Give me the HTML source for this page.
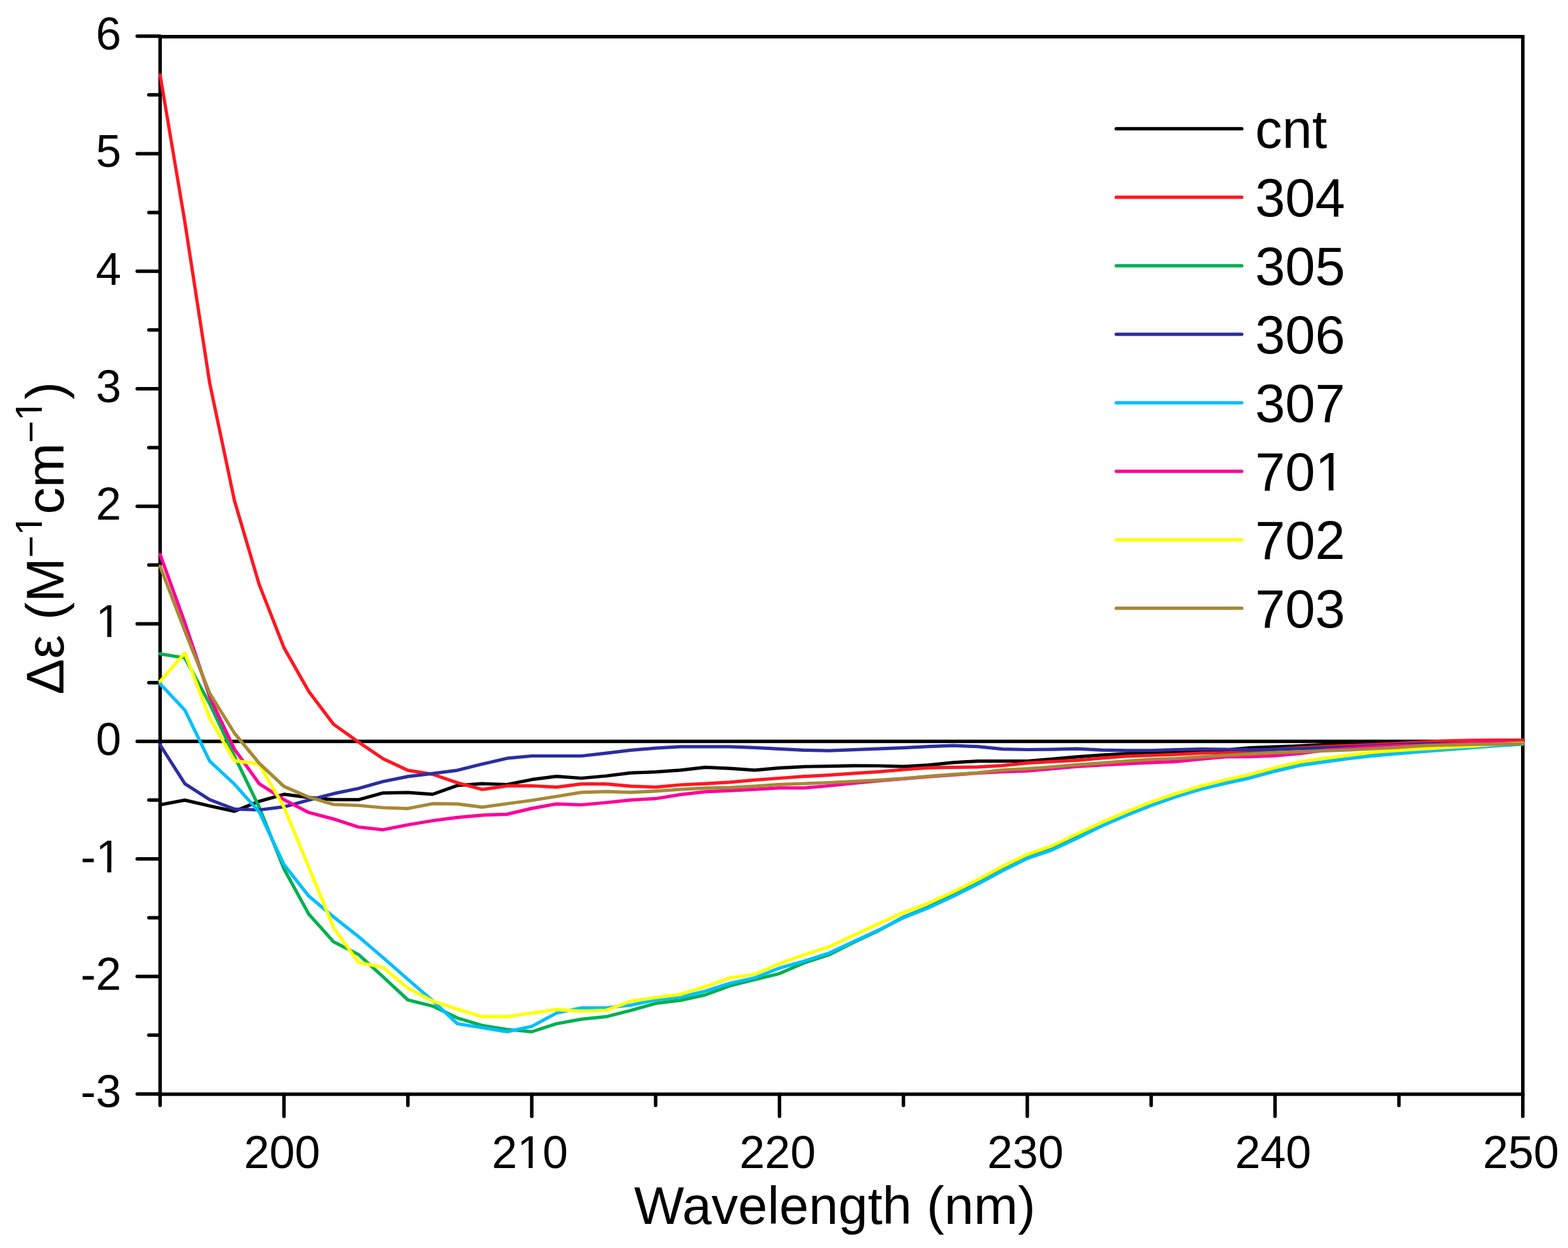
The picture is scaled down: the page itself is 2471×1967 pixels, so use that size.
<!DOCTYPE html><html><head><meta charset="utf-8"><style>html,body{margin:0;padding:0;background:#fff;}svg{display:block;}text{font-family:"Liberation Sans",Arial,Helvetica,sans-serif;fill:#000;}</style></head><body>
<svg width="2471" height="1967" viewBox="0 0 2471 1967">
<defs><clipPath id="c1_2" clipPathUnits="userSpaceOnUse"><path clip-rule="evenodd" d="M-5000 -5000H8000V8000H-5000ZM155.22 1368.12H169.05V1377.80H155.22ZM175.42 1368.12H188.68V1377.80H175.42Z"/></clipPath><clipPath id="c1_4" clipPathUnits="userSpaceOnUse"><path clip-rule="evenodd" d="M-5000 -5000H8000V8000H-5000ZM155.24 997.52H169.06V1007.20H155.24ZM175.42 997.52H188.68V1007.20H175.42Z"/></clipPath><clipPath id="c1_11" clipPathUnits="userSpaceOnUse"><path clip-rule="evenodd" d="M-5000 -5000H8000V8000H-5000ZM819.25 1834.32H833.08V1844.00H819.25ZM839.44 1834.32H852.71V1844.00H839.44Z"/></clipPath><clipPath id="c1_17" clipPathUnits="userSpaceOnUse"><path clip-rule="evenodd" d="M-5000 -5000H8000V8000H-5000ZM7.57 -39.78H19.29V-31.00H7.57ZM24.60 -39.78H35.85V-31.00H24.60ZM188.37 -39.78H200.09V-31.00H188.37ZM205.39 -39.78H216.64V-31.00H205.39Z"/></clipPath><clipPath id="c1_23" clipPathUnits="userSpaceOnUse"><path clip-rule="evenodd" d="M-5000 -5000H8000V8000H-5000ZM2077.81 765.55H2093.92V776.20H2077.81ZM2101.43 765.55H2116.88V776.20H2101.43Z"/></clipPath></defs>
<rect x="0" y="0" width="2471" height="1967" fill="#fff"/>
<line x1="252.3" y1="1168.5" x2="2399.8" y2="1168.5" stroke="#000" stroke-width="5.4"/>
<rect x="252.3" y="57.8" width="2147.5" height="1666.8" fill="none" stroke="#000" stroke-width="5.5"/>
<path d="M252.3 1724.2H216.2 M252.3 1631.6H234.6 M252.3 1539.0H216.2 M252.3 1446.4H234.6 M252.3 1353.8H216.2 M252.3 1261.1H234.6 M252.3 1168.5H216.2 M252.3 1075.9H234.6 M252.3 983.2H216.2 M252.3 890.6H234.6 M252.3 798.0H216.2 M252.3 705.4H234.6 M252.3 612.8H216.2 M252.3 520.1H234.6 M252.3 427.5H216.2 M252.3 334.9H234.6 M252.3 242.2H216.2 M252.3 149.6H234.6 M252.3 57.0H216.2 M252.3 1724.6V1742.2 M447.5 1724.6V1759.6 M642.8 1724.6V1742.2 M838.0 1724.6V1759.6 M1033.2 1724.6V1742.2 M1228.4 1724.6V1759.6 M1423.7 1724.6V1742.2 M1618.9 1724.6V1759.6 M1814.1 1724.6V1742.2 M2009.3 1724.6V1759.6 M2204.6 1724.6V1742.2 M2399.8 1724.6V1759.6" stroke="#000" stroke-width="5.5" stroke-linecap="round" fill="none"/>
<polyline points="252.3,1268.5 291.3,1261.1 330.4,1270.2 369.4,1278.7 408.5,1263.0 447.5,1251.9 486.6,1256.9 525.6,1260.4 564.7,1260.4 603.7,1249.8 642.8,1249.1 681.8,1251.9 720.8,1238.0 759.9,1235.2 798.9,1236.5 838.0,1228.7 877.0,1223.7 916.1,1226.5 955.1,1223.0 994.2,1218.1 1033.2,1216.7 1072.3,1213.9 1111.3,1209.3 1150.3,1211.1 1189.4,1213.9 1228.4,1210.4 1267.5,1208.3 1306.5,1207.6 1345.6,1206.8 1384.6,1207.0 1423.7,1208.1 1462.7,1205.9 1501.8,1201.8 1540.8,1199.6 1579.8,1199.6 1618.9,1199.6 1657.9,1196.3 1697.0,1192.8 1736.0,1190.0 1775.1,1187.8 1814.1,1185.7 1853.2,1185.7 1892.2,1184.2 1931.3,1182.2 1970.3,1178.5 2009.3,1177.0 2048.4,1175.7 2087.4,1173.7 2126.5,1172.2 2165.5,1171.6 2204.6,1170.2 2243.6,1169.2 2282.7,1168.5 2321.7,1168.5 2360.8,1168.5 2399.8,1168.5" fill="none" stroke="#000000" stroke-width="5.2" stroke-linejoin="round" stroke-linecap="round"/>
<polyline points="252.3,118.1 291.3,349.7 330.4,603.5 369.4,788.7 408.5,921.4 447.5,1020.9 486.6,1089.8 525.6,1141.5 564.7,1169.4 603.7,1195.9 642.8,1214.1 681.8,1220.4 720.8,1233.7 759.9,1244.3 798.9,1238.7 838.0,1238.5 877.0,1240.6 916.1,1235.6 955.1,1235.6 994.2,1239.1 1033.2,1240.6 1072.3,1237.0 1111.3,1235.2 1150.3,1232.8 1189.4,1229.3 1228.4,1226.5 1267.5,1223.7 1306.5,1221.7 1345.6,1218.9 1384.6,1216.3 1423.7,1213.0 1462.7,1210.2 1501.8,1209.4 1540.8,1208.9 1579.8,1206.7 1618.9,1202.6 1657.9,1200.4 1697.0,1198.3 1736.0,1194.8 1775.1,1192.0 1814.1,1190.5 1853.2,1189.2 1892.2,1187.0 1931.3,1186.5 1970.3,1183.9 2009.3,1181.1 2048.4,1178.5 2087.4,1176.5 2126.5,1175.0 2165.5,1173.7 2204.6,1171.5 2243.6,1169.4 2282.7,1167.8 2321.7,1166.8 2360.8,1166.5 2399.8,1166.5" fill="none" stroke="#ff1721" stroke-width="5.2" stroke-linejoin="round" stroke-linecap="round"/>
<polyline points="252.3,1030.5 291.3,1037.0 330.4,1109.2 369.4,1191.7 408.5,1272.2 447.5,1369.5 486.6,1440.8 525.6,1484.4 564.7,1504.2 603.7,1539.7 642.8,1576.0 681.8,1585.7 720.8,1604.4 759.9,1616.2 798.9,1622.5 838.0,1626.1 877.0,1613.5 916.1,1606.4 955.1,1602.4 994.2,1592.5 1033.2,1581.4 1072.3,1576.6 1111.3,1568.1 1150.3,1553.8 1189.4,1544.0 1228.4,1534.4 1267.5,1517.5 1306.5,1504.9 1345.6,1485.3 1384.6,1466.8 1423.7,1445.4 1462.7,1429.7 1501.8,1411.2 1540.8,1391.7 1579.8,1370.4 1618.9,1351.0 1657.9,1338.0 1697.0,1319.7 1736.0,1300.0 1775.1,1283.4 1814.1,1268.0 1853.2,1254.1 1892.2,1242.2 1931.3,1231.9 1970.3,1224.1 2009.3,1213.9 2048.4,1205.0 2087.4,1199.4 2126.5,1194.1 2165.5,1189.8 2204.6,1186.1 2243.6,1182.9 2282.7,1180.0 2321.7,1177.4 2360.8,1174.8 2399.8,1172.9" fill="none" stroke="#00b050" stroke-width="5.2" stroke-linejoin="round" stroke-linecap="round"/>
<polyline points="252.3,1174.1 291.3,1235.2 330.4,1260.4 369.4,1275.2 408.5,1276.5 447.5,1271.7 486.6,1261.1 525.6,1250.9 564.7,1242.8 603.7,1231.7 642.8,1223.9 681.8,1219.1 720.8,1214.1 759.9,1204.3 798.9,1195.2 838.0,1191.5 877.0,1191.5 916.1,1191.5 955.1,1187.2 994.2,1182.4 1033.2,1179.1 1072.3,1176.8 1111.3,1176.8 1150.3,1176.8 1189.4,1178.3 1228.4,1180.4 1267.5,1182.4 1306.5,1183.1 1345.6,1181.7 1384.6,1180.2 1423.7,1178.7 1462.7,1176.7 1501.8,1175.2 1540.8,1176.7 1579.8,1180.7 1618.9,1181.5 1657.9,1181.1 1697.0,1180.2 1736.0,1182.2 1775.1,1182.9 1814.1,1182.9 1853.2,1181.5 1892.2,1180.7 1931.3,1181.1 1970.3,1181.8 2009.3,1181.1 2048.4,1180.0 2087.4,1178.7 2126.5,1177.4 2165.5,1175.9 2204.6,1173.7 2243.6,1172.6 2282.7,1172.2 2321.7,1171.3 2360.8,1170.7 2399.8,1170.7" fill="none" stroke="#2b2e9f" stroke-width="5.2" stroke-linejoin="round" stroke-linecap="round"/>
<polyline points="252.3,1077.7 291.3,1119.2 330.4,1199.6 369.4,1235.9 408.5,1279.7 447.5,1362.6 486.6,1412.3 525.6,1445.1 564.7,1476.0 603.7,1509.4 642.8,1543.6 681.8,1577.2 720.8,1613.5 759.9,1619.8 798.9,1626.1 838.0,1617.7 877.0,1596.8 916.1,1588.5 955.1,1588.5 994.2,1584.2 1033.2,1575.9 1072.3,1571.6 1111.3,1562.2 1150.3,1549.7 1189.4,1541.2 1228.4,1525.8 1267.5,1514.7 1306.5,1502.1 1345.6,1483.8 1384.6,1465.8 1423.7,1446.7 1462.7,1431.2 1501.8,1413.0 1540.8,1393.4 1579.8,1372.5 1618.9,1353.0 1657.9,1339.7 1697.0,1321.5 1736.0,1301.9 1775.1,1285.0 1814.1,1269.6 1853.2,1255.8 1892.2,1243.9 1931.3,1234.6 1970.3,1226.1 2009.3,1215.6 2048.4,1206.5 2087.4,1200.9 2126.5,1195.4 2165.5,1191.1 2204.6,1187.6 2243.6,1184.4 2282.7,1181.3 2321.7,1178.5 2360.8,1175.2 2399.8,1172.9" fill="none" stroke="#00bfff" stroke-width="5.2" stroke-linejoin="round" stroke-linecap="round"/>
<polyline points="252.3,874.0 291.3,981.4 330.4,1098.1 369.4,1180.7 408.5,1235.2 447.5,1260.4 486.6,1280.6 525.6,1290.8 564.7,1303.5 603.7,1307.8 642.8,1300.0 681.8,1293.5 720.8,1288.4 759.9,1284.8 798.9,1283.4 838.0,1274.1 877.0,1267.1 916.1,1268.5 955.1,1265.0 994.2,1260.8 1033.2,1258.7 1072.3,1252.4 1111.3,1247.8 1150.3,1246.1 1189.4,1244.1 1228.4,1241.9 1267.5,1241.9 1306.5,1238.5 1345.6,1234.3 1384.6,1230.7 1423.7,1227.4 1462.7,1224.1 1501.8,1221.3 1540.8,1218.5 1579.8,1216.5 1618.9,1215.2 1657.9,1211.7 1697.0,1208.1 1736.0,1205.9 1775.1,1203.9 1814.1,1201.8 1853.2,1200.4 1892.2,1196.3 1931.3,1192.8 1970.3,1192.6 2009.3,1191.1 2048.4,1187.6 2087.4,1182.4 2126.5,1179.6 2165.5,1176.8 2204.6,1175.0 2243.6,1175.2 2282.7,1173.1 2321.7,1170.0 2360.8,1170.0 2399.8,1171.3" fill="none" stroke="#ff0099" stroke-width="5.2" stroke-linejoin="round" stroke-linecap="round"/>
<polyline points="252.3,1074.0 291.3,1029.2 330.4,1131.6 369.4,1198.9 408.5,1204.4 447.5,1272.2 486.6,1366.7 525.6,1461.9 564.7,1516.8 603.7,1524.7 642.8,1557.5 681.8,1577.9 720.8,1590.5 759.9,1602.4 798.9,1602.4 838.0,1596.8 877.0,1591.1 916.1,1593.8 955.1,1592.5 994.2,1577.9 1033.2,1572.3 1072.3,1567.3 1111.3,1555.1 1150.3,1541.2 1189.4,1535.7 1228.4,1518.8 1267.5,1504.9 1306.5,1492.3 1345.6,1474.2 1384.6,1455.8 1423.7,1438.2 1462.7,1423.6 1501.8,1406.0 1540.8,1386.5 1579.8,1365.6 1618.9,1346.7 1657.9,1333.0 1697.0,1314.5 1736.0,1296.3 1775.1,1279.5 1814.1,1264.1 1853.2,1250.8 1892.2,1238.9 1931.3,1229.3 1970.3,1220.6 2009.3,1210.0 2048.4,1200.9 2087.4,1195.4 2126.5,1190.4 2165.5,1185.5 2204.6,1182.6 2243.6,1180.2 2282.7,1177.9 2321.7,1175.9 2360.8,1172.8 2399.8,1171.1" fill="none" stroke="#ffff00" stroke-width="5.2" stroke-linejoin="round" stroke-linecap="round"/>
<polyline points="252.3,892.5 291.3,994.4 330.4,1092.5 369.4,1155.5 408.5,1203.0 447.5,1239.5 486.6,1256.3 525.6,1268.0 564.7,1269.5 603.7,1273.0 642.8,1274.3 681.8,1266.7 720.8,1267.2 759.9,1272.2 798.9,1266.7 838.0,1261.5 877.0,1255.2 916.1,1248.9 955.1,1247.6 994.2,1248.9 1033.2,1246.9 1072.3,1244.1 1111.3,1242.2 1150.3,1241.3 1189.4,1239.1 1228.4,1236.3 1267.5,1235.0 1306.5,1233.5 1345.6,1231.5 1384.6,1229.6 1423.7,1227.0 1462.7,1223.5 1501.8,1220.7 1540.8,1218.0 1579.8,1213.7 1618.9,1211.7 1657.9,1208.9 1697.0,1205.4 1736.0,1202.6 1775.1,1199.6 1814.1,1196.8 1853.2,1195.5 1892.2,1192.8 1931.3,1190.5 1970.3,1188.3 2009.3,1186.3 2048.4,1184.8 2087.4,1183.3 2126.5,1182.0 2165.5,1180.0 2204.6,1177.8 2243.6,1175.2 2282.7,1174.2 2321.7,1173.1 2360.8,1172.8 2399.8,1172.2" fill="none" stroke="#a68935" stroke-width="5.2" stroke-linejoin="round" stroke-linecap="round"/>
<text x="191" y="1745.2" font-size="72" text-anchor="end">-3</text>
<text x="191" y="1560.0" font-size="72" text-anchor="end">-2</text>
<text clip-path="url(#c1_2)" x="191" y="1374.8" font-size="72" text-anchor="end">-1</text>
<text x="191" y="1189.5" font-size="72" text-anchor="end">0</text>
<text clip-path="url(#c1_4)" x="191" y="1004.2" font-size="72" text-anchor="end">1</text>
<text x="191" y="819.0" font-size="72" text-anchor="end">2</text>
<text x="191" y="633.8" font-size="72" text-anchor="end">3</text>
<text x="191" y="448.5" font-size="72" text-anchor="end">4</text>
<text x="191" y="263.2" font-size="72" text-anchor="end">5</text>
<text x="191" y="78.0" font-size="72" text-anchor="end">6</text>
<text x="444.5" y="1841" font-size="72" text-anchor="middle">200</text>
<text clip-path="url(#c1_11)" x="835.0" y="1841" font-size="72" text-anchor="middle">210</text>
<text x="1225.4" y="1841" font-size="72" text-anchor="middle">220</text>
<text x="1615.9" y="1841" font-size="72" text-anchor="middle">230</text>
<text x="2006.3" y="1841" font-size="72" text-anchor="middle">240</text>
<text x="2396.8" y="1841" font-size="72" text-anchor="middle">250</text>
<text x="1315.5" y="1929" font-size="83.5" text-anchor="middle">Wavelength (nm)</text>
<text clip-path="url(#c1_17)" transform="translate(99.5,848.2) rotate(-90)" font-size="84.3" text-anchor="middle">&#916;&#949; (M<tspan dy="-30.4" font-size="60">&#8722;</tspan><tspan dy="-3.6" font-size="60">1</tspan><tspan dy="34">cm</tspan><tspan dy="-30.4" font-size="60">&#8722;</tspan><tspan dy="-3.6" font-size="60">1</tspan><tspan dy="34">)</tspan></text>
<line x1="1759" y1="202.9" x2="1957" y2="202.9" stroke="#000000" stroke-width="5.2" stroke-linecap="round"/>
<text x="1978" y="233.4" font-size="85">cnt</text>
<line x1="1759" y1="310.9" x2="1957" y2="310.9" stroke="#ff1721" stroke-width="5.2" stroke-linecap="round"/>
<text x="1978" y="341.4" font-size="85">304</text>
<line x1="1759" y1="418.8" x2="1957" y2="418.8" stroke="#00b050" stroke-width="5.2" stroke-linecap="round"/>
<text x="1978" y="449.3" font-size="85">305</text>
<line x1="1759" y1="526.8" x2="1957" y2="526.8" stroke="#2b2e9f" stroke-width="5.2" stroke-linecap="round"/>
<text x="1978" y="557.3" font-size="85">306</text>
<line x1="1759" y1="634.8" x2="1957" y2="634.8" stroke="#00bfff" stroke-width="5.2" stroke-linecap="round"/>
<text x="1978" y="665.3" font-size="85">307</text>
<line x1="1759" y1="742.8" x2="1957" y2="742.8" stroke="#ff0099" stroke-width="5.2" stroke-linecap="round"/>
<text clip-path="url(#c1_23)" x="1978" y="773.2" font-size="85">701</text>
<line x1="1759" y1="850.7" x2="1957" y2="850.7" stroke="#ffff00" stroke-width="5.2" stroke-linecap="round"/>
<text x="1978" y="881.2" font-size="85">702</text>
<line x1="1759" y1="958.7" x2="1957" y2="958.7" stroke="#a68935" stroke-width="5.2" stroke-linecap="round"/>
<text x="1978" y="989.2" font-size="85">703</text>
</svg></body></html>
